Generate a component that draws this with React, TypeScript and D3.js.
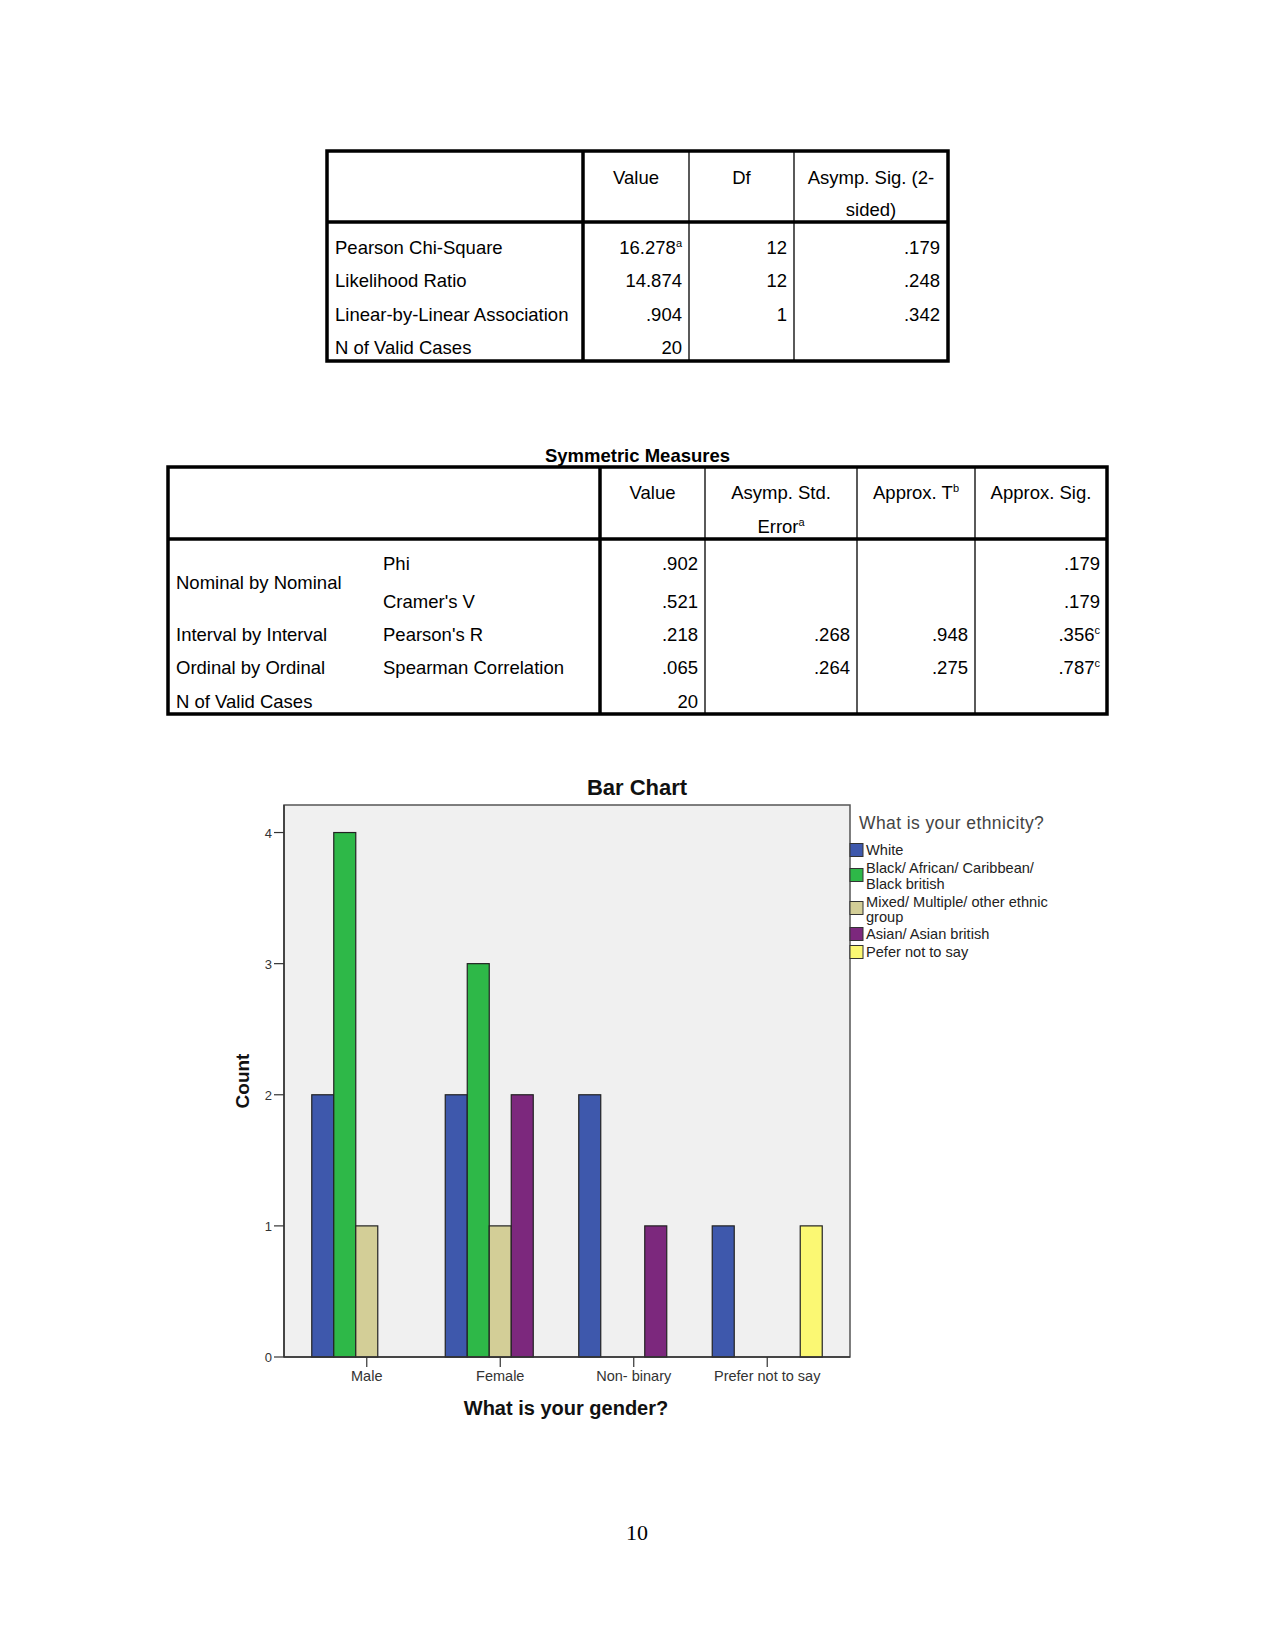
import React from "react";
import * as d3 from "d3";

// ---- Chi-square table data ----
const chiHeaders = ["Value", "Df", "Asymp. Sig. (2-|sided)"];
const chiRowLabels = ["Pearson Chi-Square", "Likelihood Ratio", "Linear-by-Linear Association", "N of Valid Cases"];
const chiValues = ["16.278", "14.874", ".904", "20"];
const chiValueSup = ["a", "", "", ""];
const chiDf = ["12", "12", "1", ""];
const chiSig = [".179", ".248", ".342", ""];

// ---- Symmetric measures data ----
const symTitle = "Symmetric Measures";
const symGroups = ["Nominal by Nominal", "", "Interval by Interval", "Ordinal by Ordinal", "N of Valid Cases"];
const symMeasures = ["Phi", "Cramer's V", "Pearson's R", "Spearman Correlation", ""];
const symValues = [".902", ".521", ".218", ".065", "20"];
const symStdErr = ["", "", ".268", ".264", ""];
const symApproxT = ["", "", ".948", ".275", ""];
const symSig = [".179", ".179", ".356", ".787", ""];
const symSigSup = ["", "", "c", "c", ""];

// ---- Bar chart data ----
const genders = ["Male", "Female", "Non- binary", "Prefer not to say"];
const ethnicities = [
  "White",
  "Black/ African/ Caribbean/|Black british",
  "Mixed/ Multiple/ other ethnic|group",
  "Asian/ Asian british",
  "Pefer not to say",
];
const ethnicityColors = ["#3E58AC", "#2EB848", "#D3CE97", "#7C287D", "#FBF873"];
const countsWhite = [2, 2, 2, 1];
const countsBlack = [4, 3, 0, 0];
const countsMixed = [1, 1, 0, 0];
const countsAsian = [0, 2, 1, 0];
const countsPrefer = [0, 0, 0, 1];
const yTicks = [0, 1, 2, 3, 4];

const seriesCounts = [countsWhite, countsBlack, countsMixed, countsAsian, countsPrefer];

const TF = "'Liberation Sans', Arial, sans-serif";

function Sup({ t }: { t: string }) {
  if (!t) return null;
  return (
    <tspan fontSize={11} dy={-7}>
      {t}
    </tspan>
  );
}

function ChiTable() {
  const L = 327, c1 = 583, c2 = 689, c3 = 794, R = 948;
  const T = 151, H = 222, B = 361;
  const rowY = [254, 287, 321, 354];
  const fs = 18.5;
  const heads = chiHeaders.map((h) => h.split("|"));
  const centers = [(c1 + c2) / 2, (c2 + c3) / 2, (c3 + R) / 2];
  return (
    <g fontFamily={TF} fontSize={fs} fill="#000">
      <rect x={L} y={T} width={R - L} height={B - T} fill="none" stroke="#000" strokeWidth={3.5} />
      <line x1={c1} x2={c1} y1={T} y2={B} stroke="#000" strokeWidth={3.5} />
      <line x1={c2} x2={c2} y1={T} y2={B} stroke="#000" strokeWidth={1.3} />
      <line x1={c3} x2={c3} y1={T} y2={B} stroke="#000" strokeWidth={1.3} />
      <line x1={L} x2={R} y1={H} y2={H} stroke="#000" strokeWidth={3.5} />
      {heads.map((lines, i) =>
        lines.map((ln, j) => (
          <text key={`h${i}${j}`} x={centers[i]} y={184 + j * 32} textAnchor="middle">
            {ln}
          </text>
        ))
      )}
      {chiRowLabels.map((lab, i) => (
        <g key={lab}>
          <text x={335} y={rowY[i]}>{lab}</text>
          <text x={c2 - 7} y={rowY[i]} textAnchor="end">
            {chiValues[i]}
            <Sup t={chiValueSup[i]} />
          </text>
          <text x={c3 - 7} y={rowY[i]} textAnchor="end">{chiDf[i]}</text>
          <text x={R - 8} y={rowY[i]} textAnchor="end">{chiSig[i]}</text>
        </g>
      ))}
    </g>
  );
}

function SymTable() {
  const L = 168, c1 = 600, c2 = 705, c3 = 857, c4 = 975, R = 1107;
  const T = 467, H = 539, B = 714;
  const rowY = [570, 608, 641, 674, 708];
  const fs = 18.5;
  return (
    <g fontFamily={TF} fontSize={fs} fill="#000">
      <text x={(L + R) / 2} y={462} textAnchor="middle" fontWeight="bold">
        {symTitle}
      </text>
      <rect x={L} y={T} width={R - L} height={B - T} fill="none" stroke="#000" strokeWidth={3.5} />
      <line x1={c1} x2={c1} y1={T} y2={B} stroke="#000" strokeWidth={3.5} />
      <line x1={c2} x2={c2} y1={T} y2={B} stroke="#000" strokeWidth={1.3} />
      <line x1={c3} x2={c3} y1={T} y2={B} stroke="#000" strokeWidth={1.3} />
      <line x1={c4} x2={c4} y1={T} y2={B} stroke="#000" strokeWidth={1.3} />
      <line x1={L} x2={R} y1={H} y2={H} stroke="#000" strokeWidth={3.5} />
      <text x={(c1 + c2) / 2} y={499} textAnchor="middle">Value</text>
      <text x={(c2 + c3) / 2} y={499} textAnchor="middle">Asymp. Std.</text>
      <text x={(c2 + c3) / 2} y={533} textAnchor="middle">
        Error<Sup t="a" />
      </text>
      <text x={(c3 + c4) / 2} y={499} textAnchor="middle">
        Approx. T<Sup t="b" />
      </text>
      <text x={(c4 + R) / 2} y={499} textAnchor="middle">Approx. Sig.</text>
      {symGroups.map((g, i) => {
        if (!g) return null;
        const y = i === 0 ? 589 : rowY[i];
        return (
          <text key={`g${i}`} x={176} y={y}>{g}</text>
        );
      })}
      {symMeasures.map((m, i) => (
        <g key={`m${i}`}>
          {m && <text x={383} y={rowY[i]}>{m}</text>}
          <text x={c2 - 7} y={rowY[i]} textAnchor="end">{symValues[i]}</text>
          <text x={c3 - 7} y={rowY[i]} textAnchor="end">{symStdErr[i]}</text>
          <text x={c4 - 7} y={rowY[i]} textAnchor="end">{symApproxT[i]}</text>
          <text x={R - 7} y={rowY[i]} textAnchor="end">
            {symSig[i]}
            <Sup t={symSigSup[i]} />
          </text>
        </g>
      ))}
    </g>
  );
}

function BarChart() {
  const left = 284, right = 850, top = 805, bottom = 1357;
  const x = d3.scalePoint<string>().domain(genders).range([left, right]).padding(0.62);
  const y = d3.scaleLinear().domain([0, 4.21]).range([bottom, top]);
  const barW = 22;
  const inner = d3
    .scaleBand<number>()
    .domain(ethnicities.map((_, i) => i))
    .range([-barW * 2.5, barW * 2.5])
    .padding(0);

  return (
    <g fontFamily={TF}>
      <text x={637} y={795} textAnchor="middle" fontWeight="bold" fontSize={22} fill="#111">
        Bar Chart
      </text>
      <rect x={left} y={top} width={right - left} height={bottom - top} fill="#F0F0F0" stroke="#555" strokeWidth={1.5} />
      {seriesCounts.map((counts, s) =>
        counts.map((v, g) =>
          v > 0 ? (
            <rect
              key={`b${s}-${g}`}
              x={(x(genders[g]) as number) + (inner(s) as number)}
              y={y(v)}
              width={inner.bandwidth()}
              height={y(0) - y(v)}
              fill={ethnicityColors[s]}
              stroke="#222"
              strokeWidth={1.2}
            />
          ) : null
        )
      )}
      <line x1={left} x2={left} y1={top} y2={bottom} stroke="#333" strokeWidth={1.5} />
      <line x1={left} x2={right} y1={bottom} y2={bottom} stroke="#333" strokeWidth={1.5} />
      {yTicks.map((t) => (
        <g key={`yt${t}`}>
          <line x1={left - 10} x2={left} y1={y(t)} y2={y(t)} stroke="#333" strokeWidth={1.2} />
          <text x={left - 12} y={y(t) + 5} textAnchor="end" fontSize={13} fill="#333">
            {t}
          </text>
        </g>
      ))}
      {genders.map((g) => (
        <g key={`xt${g}`}>
          <line x1={x(g)} x2={x(g)} y1={bottom} y2={bottom + 10} stroke="#333" strokeWidth={1.2} />
          <text x={x(g)} y={bottom + 24} textAnchor="middle" fontSize={14.5} fill="#333">
            {g}
          </text>
        </g>
      ))}
      <text x={566} y={1415} textAnchor="middle" fontWeight="bold" fontSize={20} fill="#111">
        What is your gender?
      </text>
      <text
        transform={`translate(249, 1081) rotate(-90)`}
        textAnchor="middle"
        fontWeight="bold"
        fontSize={19}
        fill="#111"
      >
        Count
      </text>
      {/* Legend */}
      <text x={859} y={829} fontSize={17.5} fill="#444" letterSpacing={0.4}>
        What is your ethnicity?
      </text>
      {ethnicities.map((e, i) => {
        const lineYs = [[850], [868, 884], [902, 917], [934], [952]][i];
        const swY = [850, 875, 908, 934, 952][i];
        return (
          <g key={`lg${i}`}>
            <rect x={850} y={swY - 6.5} width={13} height={13} fill={ethnicityColors[i]} stroke="#333" strokeWidth={1} />
            {e.split("|").map((ln, j) => (
              <text key={j} x={866} y={lineYs[j] + 5} fontSize={14.6} fill="#222">
                {ln}
              </text>
            ))}
          </g>
        );
      })}
    </g>
  );
}

export default function App() {
  return (
    <svg
      width={1275}
      height={1650}
      style={{ position: "absolute", left: 0, top: 0, background: "#fff" }}
    >
      <rect x={0} y={0} width={1275} height={1650} fill="#fff" />
      <ChiTable />
      <SymTable />
      <BarChart />
      <text x={637} y={1540} textAnchor="middle" fontFamily="'Liberation Serif', 'Times New Roman', serif" fontSize={22}>
        10
      </text>
    </svg>
  );
}
